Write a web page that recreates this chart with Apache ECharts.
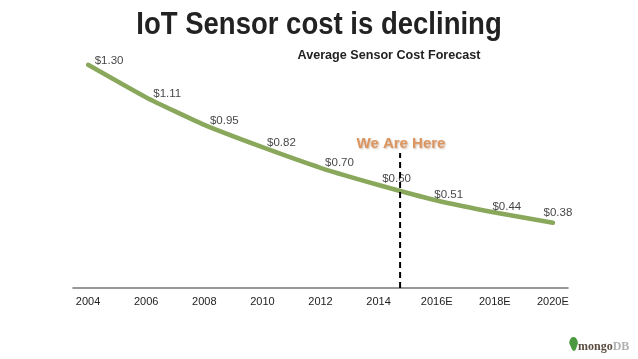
<!DOCTYPE html>
<html>
<head>
<meta charset="utf-8">
<style>
  html, body { margin: 0; padding: 0; background: #fff; }
  #chart { width: 638px; height: 359px; }
</style>
<script src="https://cdn.jsdelivr.net/npm/echarts@6/dist/echarts.min.js"></script>
</head>
<body>
<div id="chart"></div>
<script>
var years = [2004, 2006, 2008, 2010, 2012, 2014, 2016, 2018, 2020];
var tickLabels = ['2004', '2006', '2008', '2010', '2012', '2014', '2016E', '2018E', '2020E'];
var costs = [1.30, 1.11, 0.95, 0.82, 0.70, 0.60, 0.51, 0.44, 0.38];
var priceLabels = ['$1.30', '$1.11', '$0.95', '$0.82', '$0.70', '$0.60', '$0.51', '$0.44', '$0.38'];
// 每个标签相对数据点的偏移
var labelShiftX = [21, 21, 20, 19, 19, 18, 12, 12, 5];
var labelShiftY = [-4, -4, -4, -4, -5, -6, -6, -6, -10];
// "We Are Here" 虚线
var nowYear = [2014.74, 2014.74];
var nowCost = [0, 0.786];

var fontName = '"Liberation Sans", Arial, sans-serif';

var chart = echarts.init(document.getElementById('chart'));

var option = {
    animation: false,
    backgroundColor: '#fff',
    title: [
        {
            text: 'Average Sensor Cost Forecast',
            left: 389, top: 49, textAlign: 'center', padding: 0,
            textStyle: { fontFamily: fontName, fontSize: 12.6, fontWeight: 'bold', color: '#222' }
        },
        {
            text: 'We Are Here',
            left: 401, top: 136, textAlign: 'center', padding: 0,
            textStyle: {
                fontFamily: fontName, fontSize: 15, fontWeight: 'bold', color: '#dd9560',
                textShadowColor: 'rgba(120,80,40,0.4)', textShadowBlur: 2, textShadowOffsetX: 1, textShadowOffsetY: 1
            }
        },
        {
            text: '{a|mongo}{b|DB}',
            left: 578, top: 341, padding: 0,
            textStyle: {
                rich: {
                    a: { fontFamily: '"Liberation Serif", serif', fontSize: 12, color: '#5a4c40' },
                    b: { fontFamily: '"Liberation Serif", serif', fontSize: 12, color: '#b0b0b0' }
                }
            }
        }
    ],
    graphic: [
        {
            // 标题比较窄，这里横向压缩
            type: 'text',
            x: 319,
            y: 9,
            scaleX: 0.86,
            style: {
                text: 'IoT Sensor cost is declining',
                font: 'bold 32px ' + fontName,
                fill: '#222',
                textAlign: 'center'
            }
        },
        {
            type: 'polygon',
            shape: {
                points: [[573.5, 337], [577.5, 341], [577, 346], [574, 351], [570.5, 346], [569.5, 341]],
                smooth: 0.5
            },
            style: { fill: '#4c9a3f' }
        }
    ],
    grid: { left: 73, right: 70, top: 60, bottom: 71 },
    xAxis: {
        type: 'value',
        min: 2003.48,
        max: 2020.52,
        splitLine: { show: false },
        axisTick: { show: false },
        axisLine: { show: true, lineStyle: { color: '#777', width: 1.5 } },
        axisLabel: {
            customValues: years,
            margin: 8,
            fontFamily: fontName,
            fontSize: 11,
            color: '#222',
            formatter: function(value) {
                return tickLabels[years.indexOf(value)];
            }
        }
    },
    yAxis: {
        type: 'value',
        min: 0,
        max: 1.328,
        show: false
    },
    series: [
        {
            type: 'line',
            smooth: 0.15,
            symbol: 'none',
            clip: false,
            lineStyle: { color: '#8aa85c', width: 4.5, cap: 'round' },
            data: years.map(function(year, i) {
                return [year, costs[i]];
            })
        },
        {
            // 只用来显示价格标签
            type: 'scatter',
            symbolSize: 0,
            z: 4,
            label: {
                show: true,
                position: 'top',
                distance: 0,
                fontFamily: fontName,
                fontSize: 11.5,
                color: '#111',
                formatter: function(params) {
                    return priceLabels[params.dataIndex];
                }
            },
            data: years.map(function(year, i) {
                return {
                    value: [year, costs[i]],
                    label: { offset: [labelShiftX[i], labelShiftY[i] + 6] }
                };
            })
        },
        {
            type: 'line',
            symbol: 'none',
            z: 5,
            lineStyle: { color: '#000', width: 2, type: [6, 4] },
            data: nowYear.map(function(year, i) {
                return [year, nowCost[i]];
            })
        }
    ]
};

chart.setOption(option);
</script>
</body>
</html>
